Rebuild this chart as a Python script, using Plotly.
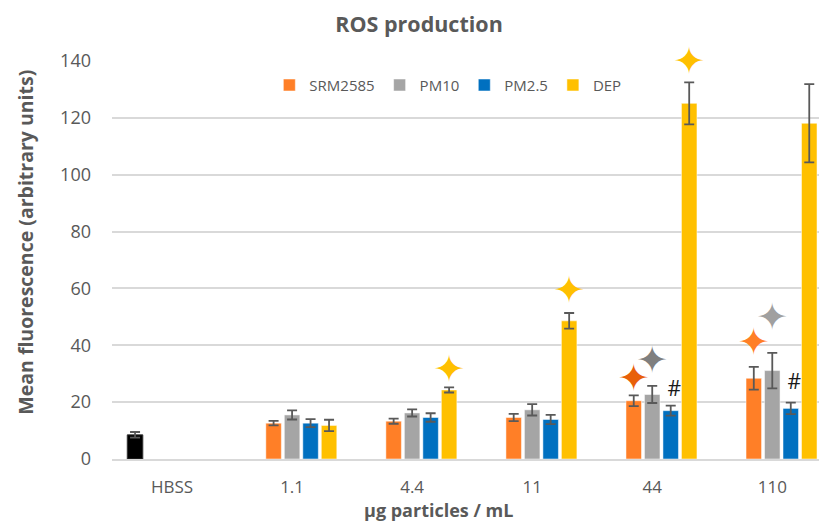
import plotly.graph_objects as go

categories = ["HBSS", "1.1", "4.4", "11", "44", "110"]
series_names = ["SRM2585", "PM10", "PM2.5", "DEP"]

hbss_value = [8.5]
hbss_err = [1.0]

srm2585 = [12.6, 13.3, 14.6, 20.5, 28.4]
srm2585_err = [0.8, 0.9, 1.25, 1.9, 4.0]
pm10 = [15.5, 16.2, 17.3, 22.7, 31.1]
pm10_err = [1.6, 1.25, 2.0, 3.0, 6.25]
pm25 = [12.6, 14.6, 13.9, 17.0, 17.8]
pm25_err = [1.4, 1.5, 1.6, 1.75, 2.0]
dep = [11.8, 24.3, 48.6, 125.1, 118.1]
dep_err = [2.0, 0.9, 2.75, 7.4, 13.75]

# significance markers (star = vs HBSS, # = other comparison)
star_category = ["4.4", "11", "44", "44", "44", "110", "110"]
star_series = ["DEP", "DEP", "DEP", "SRM2585", "PM10", "SRM2585", "PM10"]
star_y = [30.3, 58.2, 138.6, 27.2, 33.6, 40.0, 48.8]
star_colors = ["#FFC000", "#FFC000", "#FFC000", "#E8600A", "#7F7F7F", "#FF7F27", "#A0A0A0"]
hash_category = ["44", "110"]
hash_series = ["PM2.5", "PM2.5"]
hash_y = [24.0, 26.5]

colors = {"SRM2585": "#FF7F27", "PM10": "#A5A5A5", "PM2.5": "#0070C0", "DEP": "#FFC000"}
values = {"SRM2585": srm2585, "PM10": pm10, "PM2.5": pm25, "DEP": dep}
errors = {"SRM2585": srm2585_err, "PM10": pm10_err, "PM2.5": pm25_err, "DEP": dep_err}

GRAY = "#595959"
FONT = "Open Sans"
xpos = list(range(len(categories)))
BARGAP = 0.23
n_slots = 5
slot = (1 - BARGAP) / n_slots
slot_index = {"HBSS": 0, "SRM2585": 1, "PM10": 2, "PM2.5": 3, "DEP": 4}

def slot_x(cat, ser):
    return categories.index(cat) + (slot_index[ser] - 2) * slot

fig = go.Figure()
err_style = dict(type="data", color="#595959", thickness=1.8, width=5)

fig.add_trace(go.Bar(
    x=xpos, y=hbss_value + [None] * 5, name="HBSS", showlegend=False,
    marker=dict(color="#000000", line=dict(color="#333333", width=1)),
    error_y=dict(array=hbss_err + [None] * 5, **err_style),
))
for s in series_names:
    fig.add_trace(go.Bar(
        x=xpos, y=[None] + values[s], name=s,
        marker=dict(color=colors[s], line=dict(color="rgba(255,255,255,0.5)", width=1)),
        error_y=dict(array=[None] + errors[s], **err_style),
    ))

fig.add_trace(go.Scatter(
    x=[slot_x(c, s) for c, s in zip(star_category, star_series)], y=star_y,
    mode="text", text=["✦"] * len(star_y), showlegend=False, cliponaxis=False,
    hoverinfo="skip", textposition="middle center",
    textfont=dict(family="DejaVu Sans", size=38, color=star_colors),
))
fig.add_trace(go.Scatter(
    x=[slot_x(c, s) + 0.03 for c, s in zip(hash_category, hash_series)], y=hash_y,
    mode="text", text=["#"] * len(hash_y), showlegend=False, cliponaxis=False,
    textfont=dict(family=FONT, size=21, color="#1A1A1A"), textposition="middle center",
    hoverinfo="skip",
))

W, H = 819, 522
L, T, B = 112.3, 60.7, 459.3
pw, ph = W - L, B - T

fig.update_layout(
    width=W, height=H,
    margin=dict(l=L, r=0, t=T, b=H - B, pad=0),
    paper_bgcolor="white", plot_bgcolor="white",
    barmode="group", bargap=BARGAP, bargroupgap=0.16,
    font=dict(family=FONT, color=GRAY, size=16),
    title=dict(text="<b>ROS production</b>", x=419 / W, y=1 - 24 / H,
               xanchor="center", yanchor="middle",
               font=dict(family=FONT, size=21.5, color=GRAY)),
    legend=dict(orientation="h", x=(448 - L) / pw, y=(B - 85) / ph,
                xanchor="center", yanchor="middle", bgcolor="rgba(0,0,0,0)",
                font=dict(family=FONT, size=15, color=GRAY),
                itemwidth=30, traceorder="normal"),
    xaxis=dict(tickmode="array", tickvals=xpos, ticktext=categories,
               range=[-0.5, -0.5 + pw / 120.0], showgrid=False, zeroline=False,
               showline=True, linecolor="#D9D9D9", linewidth=2,
               tickfont=dict(family=FONT, size=17, color=GRAY),
               ticks="", ticklabelstandoff=12),
    yaxis=dict(range=[0, 140], tickvals=[0, 20, 40, 60, 80, 100, 120, 140],
               showgrid=True, gridcolor="#D9D9D9", gridwidth=1.5,
               zeroline=False, showline=False, ticks="",
               tickfont=dict(family=FONT, size=18, color=GRAY),
               ticklabelstandoff=20),
    annotations=[
        dict(text="<b>Mean fluorescence (arbitrary units)</b>", textangle=-90,
             xref="paper", yref="paper", x=(25 - L) / pw, y=(B - 242) / ph,
             xanchor="center", yanchor="middle", showarrow=False,
             font=dict(family=FONT, size=19.5, color=GRAY)),
        dict(text="<b>µg particles / mL</b>",
             xref="paper", yref="paper", x=(439 - L) / pw, y=(B - 510) / ph,
             xanchor="center", yanchor="middle", showarrow=False,
             font=dict(family=FONT, size=18, color=GRAY)),
    ],
)

fig.write_html("out.html", config={"displayModeBar": False},
               post_script="document.body.style.margin='0';document.body.style.overflow='hidden';")
